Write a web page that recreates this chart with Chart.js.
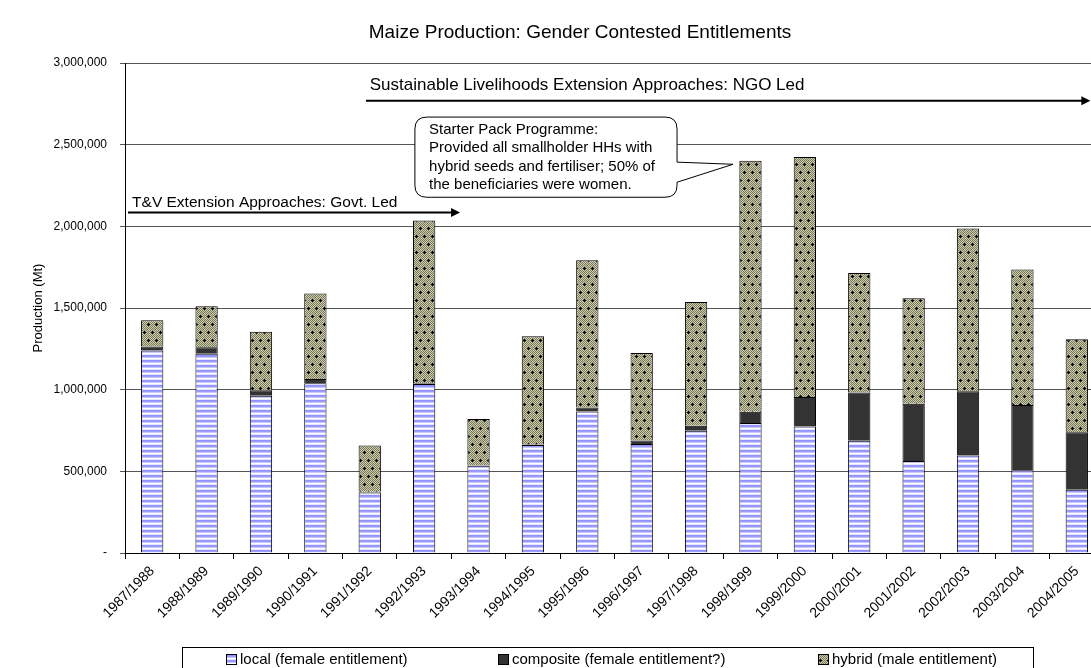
<!DOCTYPE html>
<html>
<head>
<meta charset="utf-8">
<script src="https://cdn.jsdelivr.net/npm/chart.js@4.4.1/dist/chart.umd.min.js"></script>
<style>
  html, body { margin: 0; padding: 0; background: #fff; overflow: hidden; }
</style>
</head>
<body>
<canvas id="maize" width="1112" height="690"></canvas>
<script>
// seasons on the x axis
const seasons = ["1987/1988", "1988/1989", "1989/1990", "1990/1991", "1991/1992", "1992/1993",
  "1993/1994", "1994/1995", "1995/1996", "1996/1997", "1997/1998", "1998/1999", "1999/2000",
  "2000/2001", "2001/2002", "2002/2003", "2003/2004", "2004/2005"];

// production in Mt
const localFemale = [1240000, 1220000, 963000, 1039000, 370000, 1035000, 534000, 661000, 867000,
  667000, 748000, 796000, 775000, 687000, 564000, 597000, 507000, 387000];
const compositeFemale = [25000, 40000, 33000, 27000, 5000, 5000, 3000, 3000, 24000,
  22000, 31000, 69000, 180000, 296000, 350000, 393000, 399000, 353000];
const hybridMale = [160000, 250000, 358000, 523000, 283000, 995000, 283000, 663000, 902000,
  536000, 757000, 1536000, 1470000, 731000, 646000, 996000, 830000, 569000];

const seriesNames = ["local (female entitlement)", "composite (female entitlement?)", "hybrid (male entitlement)"];
const yTicks = [0, 500000, 1000000, 1500000, 2000000, 2500000, 3000000];

const FONT = '"Liberation Sans", Arial, sans-serif';

// fill patterns like the Excel ones
function stripePattern() {
  const c = document.createElement("canvas");
  c.width = 4; c.height = 5;
  const g = c.getContext("2d");
  const rows = ["#9292ff", "#9c9cff", "#c6c6ff", "#ffffff", "#e6e6ff"];
  rows.forEach((col, i) => { g.fillStyle = col; g.fillRect(0, i, 4, 1); });
  return g.createPattern(c, "repeat");
}

function hybridPattern() {
  const c = document.createElement("canvas");
  c.width = 8; c.height = 16;
  const g = c.getContext("2d");
  for (let y = 0; y < 16; y++) {
    for (let x = 0; x < 8; x++) {
      g.fillStyle = (x + y) % 2 ? "#cfcfae" : "#77775b";
      g.fillRect(x, y, 1, 1);
    }
  }
  g.fillStyle = "#000";
  const cross = (cx, cy) => {
    g.fillRect(cx - 1, cy, 3, 1);
    g.fillRect(cx, cy - 1, 1, 3);
  };
  cross(4, 4);
  cross(0, 12); cross(8, 12);
  return g.createPattern(c, "repeat");
}

const fills = [stripePattern(), "#333333", hybridPattern()];

// position helper: category position (may be fractional) and value -> pixels
function at(chart, pos, value) {
  const x = chart.scales.x, y = chart.scales.y;
  const x0 = x.getPixelForValue(0), step = x.getPixelForValue(1) - x0;
  return [x0 + pos * step, y.getPixelForValue(value)];
}

function arrow(ctx, x1, x2, y) {
  ctx.save();
  ctx.strokeStyle = "#000";
  ctx.fillStyle = "#000";
  ctx.lineWidth = 2;
  ctx.beginPath();
  ctx.moveTo(x1, y);
  ctx.lineTo(x2 - 7, y);
  ctx.stroke();
  ctx.beginPath();
  ctx.moveTo(x2, y);
  ctx.lineTo(x2 - 9, y - 4.5);
  ctx.lineTo(x2 - 9, y + 4.5);
  ctx.closePath();
  ctx.fill();
  ctx.restore();
}

const annotations = {
  id: "annotations",
  afterDraw(chart) {
    const ctx = chart.ctx;
    ctx.save();
    ctx.fillStyle = "#000";

    // title
    ctx.font = "19px " + FONT;
    ctx.textAlign = "center";
    ctx.textBaseline = "middle";
    ctx.fillText("Maize Production: Gender Contested Entitlements", 580, 33);

    // y axis title
    ctx.save();
    ctx.translate(38, (chart.chartArea.top + chart.chartArea.bottom) / 2);
    ctx.rotate(-Math.PI / 2);
    ctx.font = "13px " + FONT;
    ctx.fillText("Production (Mt)", 0, 0);
    ctx.restore();

    ctx.textAlign = "left";
    ctx.textBaseline = "alphabetic";

    // T&V arrow
    let p = at(chart, -0.37, 2117000);
    ctx.font = "15.5px " + FONT;
    ctx.fillText("T&V Extension Approaches: Govt. Led", p[0], p[1]);
    let a = at(chart, -0.445, 2085000), b = at(chart, 5.66, 2085000);
    arrow(ctx, a[0], b[0], a[1]);

    // NGO arrow
    p = at(chart, 4.0, 2835000);
    ctx.font = "17px " + FONT;
    ctx.fillText("Sustainable Livelihoods Extension Approaches: NGO Led", p[0], p[1]);
    a = at(chart, 3.93, 2769000); b = at(chart, 17.25, 2769000);
    arrow(ctx, a[0], b[0], a[1]);

    // callout bubble
    const [L, T] = at(chart, 4.83, 2669000);
    const [R, B] = at(chart, 9.65, 2178000);
    const [, pTop] = at(chart, 0, 2393000);
    const [, pBot] = at(chart, 0, 2270000);
    const [tipX, tipY] = at(chart, 10.68, 2380000);
    const r = 12;
    ctx.beginPath();
    ctx.moveTo(L + r, T);
    ctx.lineTo(R - r, T);
    ctx.quadraticCurveTo(R, T, R, T + r);
    ctx.lineTo(R, pTop);
    ctx.lineTo(tipX, tipY);
    ctx.lineTo(R, pBot);
    ctx.lineTo(R, B - r);
    ctx.quadraticCurveTo(R, B, R - r, B);
    ctx.lineTo(L + r, B);
    ctx.quadraticCurveTo(L, B, L, B - r);
    ctx.lineTo(L, T + r);
    ctx.quadraticCurveTo(L, T, L + r, T);
    ctx.closePath();
    ctx.fillStyle = "#fff";
    ctx.fill();
    ctx.strokeStyle = "#000";
    ctx.lineWidth = 1;
    ctx.stroke();

    ctx.fillStyle = "#000";
    ctx.font = "15px " + FONT;
    const lines = ["Starter Pack Programme:", "Provided all smallholder HHs with",
      "hybrid seeds and fertiliser; 50% of", "the beneficiaries were women."];
    const [tx] = at(chart, 5.09, 0);
    lines.forEach((s, i) => ctx.fillText(s, tx, T + 16.5 + i * 18.5));

    // legend box
    ctx.strokeStyle = "#000";
    ctx.lineWidth = 1;
    ctx.strokeRect(182.5, 647.5, 851, 60);
    const swatchX = [226, 498, 818];
    ctx.font = "15px " + FONT;
    ctx.textBaseline = "middle";
    seriesNames.forEach((name, i) => {
      ctx.fillStyle = fills[i];
      ctx.fillRect(swatchX[i], 654, 10, 10);
      ctx.strokeRect(swatchX[i] + 0.5, 654.5, 10, 10);
      ctx.fillStyle = "#000";
      ctx.fillText(name, swatchX[i] + 14, 660);
    });
    ctx.restore();
  }
};

const datasets = [localFemale, compositeFemale, hybridMale].map((vals, i) => ({
  label: seriesNames[i],
  data: vals,
  backgroundColor: fills[i],
  borderColor: "#000",
  borderWidth: 1,
  categoryPercentage: 1,
  barPercentage: 0.41
}));

new Chart(document.getElementById("maize"), {
  type: "bar",
  data: { labels: seasons, datasets: datasets },
  plugins: [annotations],
  options: {
    responsive: false,
    animation: false,
    layout: { padding: { top: 63, right: 8, left: 0, bottom: 0 } },
    plugins: {
      legend: { display: false },
      title: { display: false },
      tooltip: { enabled: false }
    },
    scales: {
      x: {
        stacked: true,
        grid: { drawOnChartArea: false, drawTicks: true, tickLength: 6, color: "#000" },
        border: { color: "#000", width: 1 },
        ticks: {
          color: "#000",
          font: { family: FONT, size: 14 },
          maxRotation: 45,
          minRotation: 45,
          padding: 4,
          autoSkip: false
        },
        afterFit(scale) { scale.height = 690 - 553; }
      },
      y: {
        stacked: true,
        min: 0,
        max: 3000000,
        afterBuildTicks(scale) { scale.ticks = yTicks.map(v => ({ value: v })); },
        grid: { color: "#555", tickLength: 5, drawTicks: true },
        border: { color: "#000", width: 1 },
        ticks: {
          color: "#000",
          font: { family: FONT, size: 12 },
          padding: 13,
          callback: v => v === 0 ? "-" : v.toLocaleString("en-US")
        },
        afterFit(scale) { scale.width = 125; }
      }
    }
  }
});
</script>
</body>
</html>
